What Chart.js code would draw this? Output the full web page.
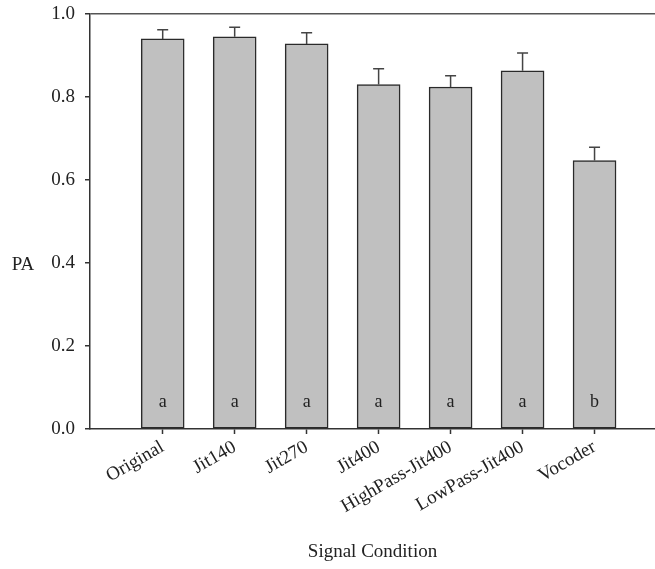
<!DOCTYPE html>
<html>
<head>
<meta charset="utf-8">
<script src="https://cdn.jsdelivr.net/npm/chart.js@4.4.0/dist/chart.umd.min.js"></script>
<style>
  html, body { margin: 0; padding: 0; background: #fff; }
  #wrap { width: 655px; height: 569px; }
</style>
</head>
<body>
<div id="wrap"><canvas id="bar-chart"></canvas></div>
<script>
// values
var conditions = ["Original", "Jit140", "Jit270", "Jit400", "HighPass-Jit400", "LowPass-Jit400", "Vocoder"];
var paMeans   = [0.940, 0.945, 0.928, 0.830, 0.824, 0.863, 0.647];
var paUpper   = [0.962, 0.968, 0.955, 0.868, 0.851, 0.906, 0.679];
var groupLetters = ["a", "a", "a", "a", "a", "a", "b"];
var yTicks = [0, 0.2, 0.4, 0.6, 0.8, 1.0];

var serif = "'Liberation Serif', 'Times New Roman', serif";
var ink = "#222";

// error bars (upper only), group letters, horizontal "PA"
var extras = {
  id: "extras",
  afterDatasetsDraw: function(chart) {
    var ctx = chart.ctx;
    var xs = chart.scales.x, ys = chart.scales.y;
    ctx.save();
    ctx.strokeStyle = "#444";
    ctx.lineWidth = 1.5;
    for (var i = 0; i < paMeans.length; i++) {
      var cx = xs.getPixelForValue(i);
      var y0 = ys.getPixelForValue(paMeans[i]);
      var y1 = ys.getPixelForValue(paUpper[i]);
      ctx.beginPath();
      ctx.moveTo(cx, y0);
      ctx.lineTo(cx, y1);
      ctx.moveTo(cx - 5.5, y1);
      ctx.lineTo(cx + 5.5, y1);
      ctx.stroke();
    }
    ctx.fillStyle = ink;
    ctx.font = "18px " + serif;
    ctx.textAlign = "center";
    ctx.textBaseline = "middle";
    for (var j = 0; j < groupLetters.length; j++) {
      ctx.fillText(groupLetters[j], xs.getPixelForValue(j), ys.getPixelForValue(0.065));
    }
    ctx.font = "19px " + serif;
    ctx.fillText("PA", 23, ys.getPixelForValue(0.395));
    ctx.restore();
  }
};

new Chart(document.getElementById("bar-chart"),
{
  type: 'bar',
  data:
  {
    datasets:
    [{
      label: "PA",
      data: paMeans.map(function(v, i) { return { x: i, y: v }; }),
      backgroundColor: "#c0c0c0",
      borderColor: "#2a2a2a",
      borderWidth: 1.5,
      borderSkipped: false,
      barThickness: 43
    }]
  },
  options:
  {
    responsive: true,
    maintainAspectRatio: false,
    animation: false,
    layout: { padding: { top: 14, right: 0, left: 0, bottom: 0 } },
    plugins:
    {
      legend: { display: false },
      tooltip: { enabled: false }
    },
    scales:
    {
      x:
      {
        type: 'linear',
        offset: false,
        min: -1.01,
        max: 6.84,
        afterBuildTicks: function(scale) {
          scale.ticks = conditions.map(function(c, i) { return { value: i }; });
        },
        afterFit: function(scale) { scale.height = 140; scale.paddingLeft = 0; scale.paddingRight = 0; },
        ticks:
        {
          autoSkip: false,
          minRotation: 30,
          maxRotation: 30,
          padding: 2,
          color: ink,
          font: { family: serif, size: 19 },
          callback: function(v) { return conditions[v] || ""; }
        },
        grid: { offset: false, drawOnChartArea: false, drawTicks: true, tickLength: 5, tickColor: "#333", tickWidth: 1.5 },
        border: { color: "#333", width: 1.5 },
        title:
        {
          display: true,
          text: "Signal Condition",
          color: ink,
          font: { family: serif, size: 19 },
          padding: { top: 4, bottom: 6 }
        }
      },
      y:
      {
        min: 0,
        max: 1.0,
        afterBuildTicks: function(scale) {
          scale.ticks = yTicks.map(function(v) { return { value: v }; });
        },
        afterFit: function(scale) { scale.width = 90; scale.paddingTop = 0; scale.paddingBottom = 0; },
        ticks:
        {
          padding: 10,
          color: ink,
          font: { family: serif, size: 19 },
          callback: function(v) { return v.toFixed(1); }
        },
        grid:
        {
          drawTicks: true,
          tickLength: 5,
          tickColor: "#333",
          tickWidth: 1.5,
          lineWidth: 1.5,
          color: function(c) { return c.tick && c.tick.value === 1 ? "#555" : "rgba(0,0,0,0)"; }
        },
        border: { color: "#333", width: 1.5 }
      }
    }
  },
  plugins: [extras]
});
</script>
</body>
</html>
